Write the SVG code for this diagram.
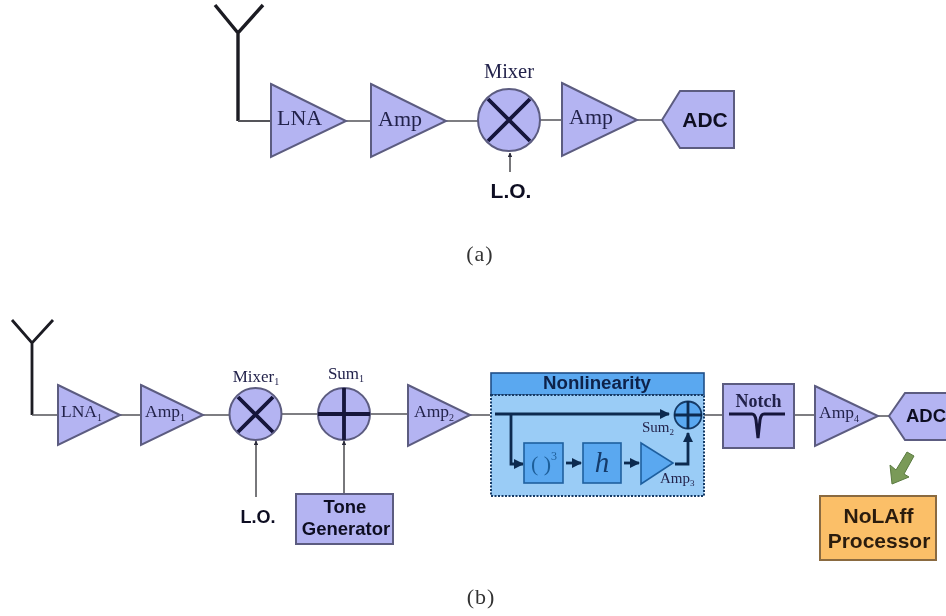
<svg xmlns="http://www.w3.org/2000/svg" width="946" height="616" viewBox="0 0 946 616">
<defs>
<marker id="a" viewBox="0 0 10 10" refX="9" refY="5" markerWidth="3" markerHeight="3" orient="auto"><path d="M0 0L10 5L0 10z" fill="#2a2a3a"/></marker>
<marker id="b" viewBox="0 0 10 10" refX="9" refY="5" markerWidth="3.6" markerHeight="3.6" orient="auto"><path d="M0 0L10 5L0 10z" fill="#0c2a50"/></marker>
<filter id="s"><feGaussianBlur stdDeviation="0.5"/></filter>
</defs>
<style>
.n{fill:#b4b4f2;stroke:#5c5c80;stroke-width:2}
.w{fill:none;stroke:#55555a;stroke-width:1.6}
.t{fill:none;stroke:#1a1a22;stroke-width:3.4;stroke-linejoin:miter}
.x{stroke:#14143a;stroke-width:3.8;fill:none}
.x2{stroke:#14143a;stroke-width:3;fill:none}
.i{fill:none;stroke:#0c2a50;stroke-width:2.8}
.s{font-family:"Liberation Serif",serif;fill:#24244c}
.b{font-family:"Liberation Sans",sans-serif;font-weight:bold;fill:#111122}
.c{font-family:"Liberation Serif",serif;fill:#333;font-size:22px;letter-spacing:1px;text-anchor:middle}
.m{text-anchor:middle}
</style>
<rect width="946" height="616" fill="#fff"/>
<g id="connectors" filter="url(#s)">
<path class="t" d="M215 5L238 33L263 5M238 33V121"/>
<path class="w" style="stroke-width:2" d="M238 121H271"/>
<path class="w" d="M346 121H372M446 121H478M540 120H563M637 120H662"/>
<path class="w" d="M510 172V153" marker-end="url(#a)"/>
<path class="t" style="stroke-width:2.8" d="M12 320L32 343L53 320M32 343V415"/>
<path class="w" d="M32 415H58M120 415H141M203 415H230M282 414H318M370 414H408M470 415H490M704 415H723M794 415H816M878 416H889"/>
<path class="w" d="M256 497V441" marker-end="url(#a)"/>
<path class="w" d="M344 494V441" marker-end="url(#a)"/>
</g>
<g id="lna" filter="url(#s)"><path class="n" d="M271 84L346 121L271 157z"/><text class="s" x="277" y="125" font-size="22">LNA</text></g>
<g id="amp" filter="url(#s)"><path class="n" d="M371 84L446 121L371 157z"/><text class="s" x="378" y="126" font-size="22">Amp</text></g>
<g id="mixer" filter="url(#s)"><circle class="n" cx="509" cy="120" r="31"/><path class="x" d="M488 99L530 141M530 99L488 141"/><text class="s m" x="509" y="78" font-size="20.5">Mixer</text></g>
<g id="lo-a" filter="url(#s)"><text class="b m" x="511" y="198" font-size="21">L.O.</text></g>
<g id="amp-a2" filter="url(#s)"><path class="n" d="M562 83L637 120L562 156z"/><text class="s" x="569" y="124" font-size="22">Amp</text></g>
<g id="adc-a" filter="url(#s)"><path class="n" d="M662 120L680 91H734V148H680z"/><text class="b m" x="705" y="127" font-size="21">ADC</text></g>
<g id="cap-a" filter="url(#s)"><text class="c" x="480" y="261">(a)</text></g>

<g id="lna1" filter="url(#s)"><path class="n" d="M58 385L120 415L58 445z"/><text class="s" x="61" y="417" font-size="17.5">LNA<tspan font-size="10" dy="4">1</tspan></text></g>
<g id="amp1" filter="url(#s)"><path class="n" d="M141 385L203 415L141 445z"/><text class="s" x="145" y="417" font-size="17.5">Amp<tspan font-size="10" dy="4">1</tspan></text></g>
<g id="mixer1" filter="url(#s)"><circle class="n" cx="255.500" cy="414" r="26"/><path class="x" d="M238 397L273 432M273 397L238 432"/><text class="s m" x="256" y="382" font-size="17">Mixer<tspan font-size="10" dy="3">1</tspan></text></g>
<g id="lo-b" filter="url(#s)"><text class="b m" x="258" y="523" font-size="18">L.O.</text></g>
<g id="sum1" filter="url(#s)"><circle class="n" cx="344" cy="414" r="26"/><path class="x" d="M318 414H370M344 388V440"/><text class="s m" x="346" y="379" font-size="17">Sum<tspan font-size="10" dy="3">1</tspan></text></g>
<g id="tone" filter="url(#s)"><rect class="n" x="296" y="494" width="97" height="50"/><text class="b m" x="345" y="513" font-size="18.500">Tone</text><text class="b m" x="346" y="535" font-size="18.500">Generator</text></g>
<g id="amp2" filter="url(#s)"><path class="n" d="M408 385L470 415L408 446z"/><text class="s" x="414" y="417" font-size="17.5">Amp<tspan font-size="10" dy="4">2</tspan></text></g>

<g id="nonlinearity" filter="url(#s)">
<rect x="491" y="373" width="213" height="22" fill="#5aa8f0" stroke="#1f4f88" stroke-width="1.600"/>
<rect x="491" y="395" width="213" height="101" fill="#9accf6" stroke="#163a66" stroke-width="2" stroke-dasharray="2 1.5"/>
<text class="b m" x="597" y="389" font-size="18.700" style="fill:#10224a">Nonlinearity</text>
<path class="i" d="M495 414H669" marker-end="url(#b)"/>
<path class="i" d="M511 414V464H523" marker-end="url(#b)"/>
<rect x="524" y="443" width="39" height="40" fill="#5aa8f0" stroke="#1f5f9f" stroke-width="1.600"/>
<text x="544" y="471" text-anchor="middle" font-family="Liberation Serif,serif" font-size="22" fill="#1f5f9a">( )<tspan font-size="12" dy="-11">3</tspan></text>
<path class="i" d="M566 463H581" marker-end="url(#b)"/>
<rect x="583" y="443" width="38" height="40" fill="#5aa8f0" stroke="#1f5f9f" stroke-width="1.600"/>
<text x="602" y="472" text-anchor="middle" font-family="Liberation Serif,serif" font-style="italic" font-size="29" fill="#123a6a">h</text>
<path class="i" d="M624 463H639" marker-end="url(#b)"/>
<path d="M641 443L673 463L641 484z" fill="#5aa8f0" stroke="#1f5f9f" stroke-width="1.600"/>
<path class="i" d="M675 464H688V433" marker-end="url(#b)"/>
<circle cx="688" cy="415" r="13.500" fill="#5aa8f0" stroke="#163a66" stroke-width="1.800"/>
<path class="i" d="M674 415H702M688 401V429"/>
<text class="s" x="642" y="432" font-size="15">Sum<tspan font-size="9" dy="3">2</tspan></text>
<text class="s" x="660" y="483" font-size="15">Amp<tspan font-size="9" dy="3">3</tspan></text>
</g>

<g id="notch" filter="url(#s)"><rect class="n" x="723" y="384" width="71" height="64"/><text class="s m" x="758.500" y="407" font-size="18" font-weight="bold">Notch</text><path class="x2" d="M729 414H752Q755 414 756 420L758 438L760 420Q761 414 764 414H785"/></g>
<g id="amp4" filter="url(#s)"><path class="n" d="M815 386L878 416L815 446z"/><text class="s" x="819" y="418" font-size="17.5">Amp<tspan font-size="10" dy="4">4</tspan></text></g>
<g id="adc-b" filter="url(#s)"><path class="n" d="M889 416L905 393H947V440H905z"/><text class="b" x="906" y="422" font-size="18.500">ADC</text></g>
<g id="flow" filter="url(#s)"><path d="M907 452L914 456L904 474L909 477L892 484L890 465L896 470z" fill="#7a9a58" stroke="#5a7a40"/></g>
<g id="nolaff" filter="url(#s)"><rect x="820" y="496" width="116" height="64" fill="#fbbf68" stroke="#8a6a40" stroke-width="2"/><text class="b m" x="878.500" y="523" font-size="21" style="fill:#2c1c10">NoLAff</text><text class="b m" x="879" y="548" font-size="21" style="fill:#2c1c10">Processor</text></g>
<g id="cap-b" filter="url(#s)"><text class="c" x="481" y="604">(b)</text></g>
</svg>
